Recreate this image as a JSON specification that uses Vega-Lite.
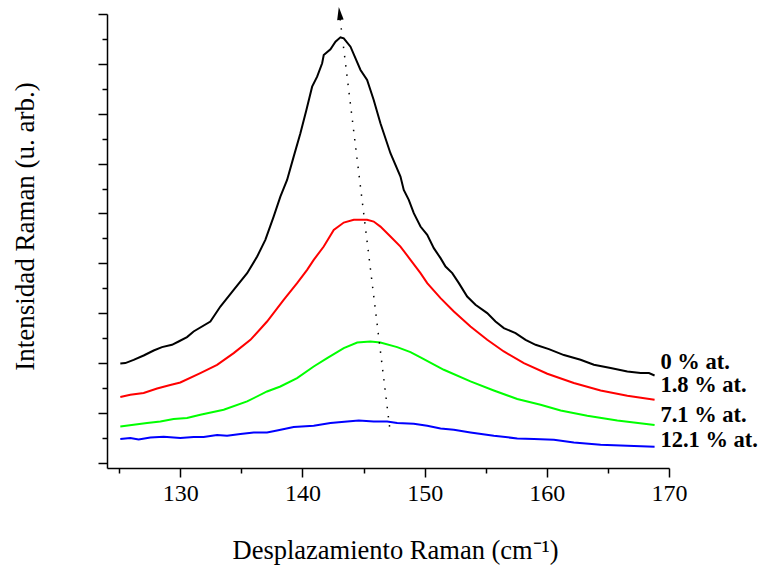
{
  "$schema": "https://vega.github.io/schema/vega-lite/v6.json",
  "width": 562,
  "height": 454,
  "autosize": "none",
  "padding": {"left": 107, "top": 14, "right": 95, "bottom": 101},
  "background": "white",
  "config": {
    "view": {"stroke": null},
    "font": "Liberation Serif",
    "axis": {"grid": false, "domainColor": "black", "tickColor": "black", "domainWidth": 1.5, "tickWidth": 1.5, "labelColor": "black", "titleColor": "black", "labelFont": "Liberation Serif", "titleFont": "Liberation Serif", "titleFontWeight": "normal"}
  },
  "datasets": {
    "spectra": [
      {"series": "0 % at.", "x": 125.09, "y": 1.990},
      {"series": "0 % at.", "x": 125.50, "y": 1.998},
      {"series": "0 % at.", "x": 126.18, "y": 2.064},
      {"series": "0 % at.", "x": 127.00, "y": 2.151},
      {"series": "0 % at.", "x": 127.82, "y": 2.251},
      {"series": "0 % at.", "x": 128.50, "y": 2.319},
      {"series": "0 % at.", "x": 129.32, "y": 2.365},
      {"series": "0 % at.", "x": 129.86, "y": 2.431},
      {"series": "0 % at.", "x": 130.55, "y": 2.520},
      {"series": "0 % at.", "x": 131.09, "y": 2.632},
      {"series": "0 % at.", "x": 132.46, "y": 2.832},
      {"series": "0 % at.", "x": 133.28, "y": 3.133},
      {"series": "0 % at.", "x": 134.37, "y": 3.468},
      {"series": "0 % at.", "x": 135.47, "y": 3.802},
      {"series": "0 % at.", "x": 136.29, "y": 4.135},
      {"series": "0 % at.", "x": 136.96, "y": 4.470},
      {"series": "0 % at.", "x": 137.64, "y": 4.937},
      {"series": "0 % at.", "x": 138.19, "y": 5.338},
      {"series": "0 % at.", "x": 138.74, "y": 5.672},
      {"series": "0 % at.", "x": 139.28, "y": 6.139},
      {"series": "0 % at.", "x": 139.83, "y": 6.609},
      {"series": "0 % at.", "x": 140.32, "y": 7.076},
      {"series": "0 % at.", "x": 140.79, "y": 7.543},
      {"series": "0 % at.", "x": 141.20, "y": 7.743},
      {"series": "0 % at.", "x": 141.61, "y": 8.012},
      {"series": "0 % at.", "x": 141.74, "y": 8.178},
      {"series": "0 % at.", "x": 142.29, "y": 8.292},
      {"series": "0 % at.", "x": 142.70, "y": 8.445},
      {"series": "0 % at.", "x": 143.11, "y": 8.533},
      {"series": "0 % at.", "x": 143.38, "y": 8.513},
      {"series": "0 % at.", "x": 143.93, "y": 8.344},
      {"series": "0 % at.", "x": 144.75, "y": 7.877},
      {"series": "0 % at.", "x": 145.29, "y": 7.677},
      {"series": "0 % at.", "x": 145.83, "y": 7.276},
      {"series": "0 % at.", "x": 146.38, "y": 6.809},
      {"series": "0 % at.", "x": 147.20, "y": 6.208},
      {"series": "0 % at.", "x": 148.02, "y": 5.739},
      {"series": "0 % at.", "x": 148.29, "y": 5.472},
      {"series": "0 % at.", "x": 148.70, "y": 5.272},
      {"series": "0 % at.", "x": 149.11, "y": 5.005},
      {"series": "0 % at.", "x": 149.66, "y": 4.737},
      {"series": "0 % at.", "x": 150.21, "y": 4.570},
      {"series": "0 % at.", "x": 150.75, "y": 4.303},
      {"series": "0 % at.", "x": 151.30, "y": 4.103},
      {"series": "0 % at.", "x": 151.71, "y": 3.935},
      {"series": "0 % at.", "x": 152.26, "y": 3.802},
      {"series": "0 % at.", "x": 152.80, "y": 3.602},
      {"series": "0 % at.", "x": 153.48, "y": 3.333},
      {"series": "0 % at.", "x": 154.16, "y": 3.167},
      {"series": "0 % at.", "x": 155.12, "y": 3.001},
      {"series": "0 % at.", "x": 155.80, "y": 2.832},
      {"series": "0 % at.", "x": 156.48, "y": 2.700},
      {"series": "0 % at.", "x": 157.44, "y": 2.600},
      {"series": "0 % at.", "x": 158.26, "y": 2.465},
      {"series": "0 % at.", "x": 159.08, "y": 2.365},
      {"series": "0 % at.", "x": 160.17, "y": 2.279},
      {"series": "0 % at.", "x": 161.40, "y": 2.159},
      {"series": "0 % at.", "x": 162.76, "y": 2.065},
      {"series": "0 % at.", "x": 163.85, "y": 1.964},
      {"series": "0 % at.", "x": 165.22, "y": 1.898},
      {"series": "0 % at.", "x": 166.59, "y": 1.830},
      {"series": "0 % at.", "x": 167.68, "y": 1.798},
      {"series": "0 % at.", "x": 168.36, "y": 1.798},
      {"series": "0 % at.", "x": 168.82, "y": 1.750},
      {"series": "1.8 % at.", "x": 125.09, "y": 1.317},
      {"series": "1.8 % at.", "x": 125.91, "y": 1.363},
      {"series": "1.8 % at.", "x": 127.00, "y": 1.397},
      {"series": "1.8 % at.", "x": 128.10, "y": 1.489},
      {"series": "1.8 % at.", "x": 129.18, "y": 1.557},
      {"series": "1.8 % at.", "x": 130.00, "y": 1.610},
      {"series": "1.8 % at.", "x": 131.64, "y": 1.798},
      {"series": "1.8 % at.", "x": 133.01, "y": 1.964},
      {"series": "1.8 % at.", "x": 134.37, "y": 2.199},
      {"series": "1.8 % at.", "x": 135.74, "y": 2.465},
      {"series": "1.8 % at.", "x": 137.10, "y": 2.832},
      {"series": "1.8 % at.", "x": 138.46, "y": 3.267},
      {"series": "1.8 % at.", "x": 139.56, "y": 3.602},
      {"series": "1.8 % at.", "x": 140.38, "y": 3.868},
      {"series": "1.8 % at.", "x": 140.92, "y": 4.069},
      {"series": "1.8 % at.", "x": 141.74, "y": 4.336},
      {"series": "1.8 % at.", "x": 142.56, "y": 4.670},
      {"series": "1.8 % at.", "x": 143.38, "y": 4.817},
      {"series": "1.8 % at.", "x": 144.20, "y": 4.871},
      {"series": "1.8 % at.", "x": 145.29, "y": 4.871},
      {"series": "1.8 % at.", "x": 145.83, "y": 4.837},
      {"series": "1.8 % at.", "x": 146.38, "y": 4.736},
      {"series": "1.8 % at.", "x": 147.20, "y": 4.536},
      {"series": "1.8 % at.", "x": 148.02, "y": 4.336},
      {"series": "1.8 % at.", "x": 148.84, "y": 4.069},
      {"series": "1.8 % at.", "x": 149.66, "y": 3.802},
      {"series": "1.8 % at.", "x": 150.21, "y": 3.602},
      {"series": "1.8 % at.", "x": 151.30, "y": 3.301},
      {"series": "1.8 % at.", "x": 152.39, "y": 3.033},
      {"series": "1.8 % at.", "x": 153.75, "y": 2.732},
      {"series": "1.8 % at.", "x": 155.12, "y": 2.465},
      {"series": "1.8 % at.", "x": 156.48, "y": 2.231},
      {"series": "1.8 % at.", "x": 158.12, "y": 1.998},
      {"series": "1.8 % at.", "x": 160.04, "y": 1.784},
      {"series": "1.8 % at.", "x": 162.21, "y": 1.598},
      {"series": "1.8 % at.", "x": 164.40, "y": 1.449},
      {"series": "1.8 % at.", "x": 166.59, "y": 1.343},
      {"series": "1.8 % at.", "x": 168.82, "y": 1.263},
      {"series": "7.1 % at.", "x": 125.09, "y": 0.728},
      {"series": "7.1 % at.", "x": 126.18, "y": 0.762},
      {"series": "7.1 % at.", "x": 127.28, "y": 0.796},
      {"series": "7.1 % at.", "x": 128.37, "y": 0.828},
      {"series": "7.1 % at.", "x": 129.45, "y": 0.876},
      {"series": "7.1 % at.", "x": 130.55, "y": 0.896},
      {"series": "7.1 % at.", "x": 131.64, "y": 0.962},
      {"series": "7.1 % at.", "x": 133.55, "y": 1.062},
      {"series": "7.1 % at.", "x": 135.47, "y": 1.229},
      {"series": "7.1 % at.", "x": 137.10, "y": 1.429},
      {"series": "7.1 % at.", "x": 138.19, "y": 1.529},
      {"series": "7.1 % at.", "x": 139.56, "y": 1.698},
      {"series": "7.1 % at.", "x": 140.92, "y": 1.930},
      {"series": "7.1 % at.", "x": 142.02, "y": 2.099},
      {"series": "7.1 % at.", "x": 143.38, "y": 2.299},
      {"series": "7.1 % at.", "x": 144.48, "y": 2.411},
      {"series": "7.1 % at.", "x": 145.56, "y": 2.431},
      {"series": "7.1 % at.", "x": 146.38, "y": 2.411},
      {"series": "7.1 % at.", "x": 147.75, "y": 2.319},
      {"series": "7.1 % at.", "x": 148.84, "y": 2.219},
      {"series": "7.1 % at.", "x": 149.66, "y": 2.115},
      {"series": "7.1 % at.", "x": 151.57, "y": 1.864},
      {"series": "7.1 % at.", "x": 153.75, "y": 1.630},
      {"series": "7.1 % at.", "x": 155.66, "y": 1.449},
      {"series": "7.1 % at.", "x": 157.58, "y": 1.277},
      {"series": "7.1 % at.", "x": 159.49, "y": 1.163},
      {"series": "7.1 % at.", "x": 161.13, "y": 1.048},
      {"series": "7.1 % at.", "x": 163.31, "y": 0.942},
      {"series": "7.1 % at.", "x": 165.77, "y": 0.848},
      {"series": "7.1 % at.", "x": 168.82, "y": 0.756},
      {"series": "12.1 % at.", "x": 125.09, "y": 0.475},
      {"series": "12.1 % at.", "x": 125.91, "y": 0.495},
      {"series": "12.1 % at.", "x": 126.59, "y": 0.467},
      {"series": "12.1 % at.", "x": 127.55, "y": 0.507},
      {"series": "12.1 % at.", "x": 128.64, "y": 0.521},
      {"series": "12.1 % at.", "x": 130.00, "y": 0.495},
      {"series": "12.1 % at.", "x": 131.09, "y": 0.515},
      {"series": "12.1 % at.", "x": 131.91, "y": 0.515},
      {"series": "12.1 % at.", "x": 133.01, "y": 0.555},
      {"series": "12.1 % at.", "x": 133.83, "y": 0.541},
      {"series": "12.1 % at.", "x": 134.92, "y": 0.575},
      {"series": "12.1 % at.", "x": 136.01, "y": 0.607},
      {"series": "12.1 % at.", "x": 137.10, "y": 0.607},
      {"series": "12.1 % at.", "x": 137.92, "y": 0.647},
      {"series": "12.1 % at.", "x": 139.28, "y": 0.716},
      {"series": "12.1 % at.", "x": 140.92, "y": 0.742},
      {"series": "12.1 % at.", "x": 142.29, "y": 0.796},
      {"series": "12.1 % at.", "x": 143.66, "y": 0.828},
      {"series": "12.1 % at.", "x": 144.61, "y": 0.848},
      {"series": "12.1 % at.", "x": 145.83, "y": 0.828},
      {"series": "12.1 % at.", "x": 146.93, "y": 0.828},
      {"series": "12.1 % at.", "x": 147.75, "y": 0.796},
      {"series": "12.1 % at.", "x": 149.11, "y": 0.782},
      {"series": "12.1 % at.", "x": 150.21, "y": 0.742},
      {"series": "12.1 % at.", "x": 151.30, "y": 0.688},
      {"series": "12.1 % at.", "x": 152.39, "y": 0.661},
      {"series": "12.1 % at.", "x": 153.75, "y": 0.607},
      {"series": "12.1 % at.", "x": 155.66, "y": 0.541},
      {"series": "12.1 % at.", "x": 157.58, "y": 0.487},
      {"series": "12.1 % at.", "x": 158.94, "y": 0.475},
      {"series": "12.1 % at.", "x": 160.58, "y": 0.461},
      {"series": "12.1 % at.", "x": 162.21, "y": 0.407},
      {"series": "12.1 % at.", "x": 164.40, "y": 0.361},
      {"series": "12.1 % at.", "x": 166.59, "y": 0.341},
      {"series": "12.1 % at.", "x": 168.82, "y": 0.321}
    ],
    "shift": [
      {"x": 147.16, "y": 0.66},
      {"x": 143.08, "y": 8.90}
    ],
    "arrowhead": [
      {"x": 143.04, "y": 9.01}
    ],
    "labels": [
      {"label": "0 % at.", "x": 169.3, "y": 2.03},
      {"label": "1.8 % at.", "x": 169.3, "y": 1.563},
      {"label": "7.1 % at.", "x": 169.3, "y": 0.962},
      {"label": "12.1 % at.", "x": 169.3, "y": 0.461}
    ]
  },
  "resolve": {"axis": {"x": "independent", "y": "independent"}},
  "layer": [
    {
      "data": {"name": "spectra"},
      "mark": {"type": "line", "strokeWidth": 2},
      "encoding": {
        "x": {"field": "x", "type": "quantitative", "scale": {"domain": [124, 170], "nice": false, "zero": false},
          "axis": {"orient": "bottom", "values": [130, 140, 150, 160, 170], "tickSize": 9, "labelFontSize": 24, "labelPadding": 4, "labelFlush": false,
            "title": "Desplazamiento Raman (cm⁻¹)", "titleFontSize": 26.5, "titleX": 288, "titleY": 82, "titleAlign": "center", "titleBaseline": "middle", "titleAnchor": null}},
        "y": {"field": "y", "type": "quantitative", "scale": {"domain": [-0.106, 9], "nice": false, "zero": false},
          "axis": {"orient": "left", "values": [0, 1, 2, 3, 4, 5, 6, 7, 8, 9], "tickSize": 9, "labels": false,
            "title": "Intensidad Raman (u. arb.)", "titleFontSize": 27, "titleX": -82, "titleY": 212, "titleAngle": -90, "titleAlign": "center", "titleBaseline": "middle", "titleAnchor": null}},
        "color": {"field": "series", "type": "nominal", "legend": null,
          "scale": {"domain": ["0 % at.", "1.8 % at.", "7.1 % at.", "12.1 % at."], "range": ["#000000", "#ff0000", "#00ff00", "#0000ff"]}}
      }
    },
    {
      "data": {"name": "shift"},
      "mark": {"type": "line", "color": "black", "strokeWidth": 1.5, "strokeDash": [1.5, 7.8]},
      "encoding": {
        "x": {"field": "x", "type": "quantitative",
          "axis": {"orient": "bottom", "values": [125, 135, 145, 155, 165], "tickSize": 5, "labels": false, "domain": false, "title": null}},
        "y": {"field": "y", "type": "quantitative",
          "axis": {"orient": "left", "values": [0.5, 1.5, 2.5, 3.5, 4.5, 5.5, 6.5, 7.5, 8.5], "tickSize": 5, "labels": false, "domain": false, "title": null}}
      }
    },
    {
      "data": {"name": "arrowhead"},
      "mark": {"type": "point", "shape": "M0,-1L0.5,1L-0.5,1Z", "filled": true, "color": "black", "opacity": 1, "size": 169, "angle": -7},
      "encoding": {
        "x": {"field": "x", "type": "quantitative", "axis": null},
        "y": {"field": "y", "type": "quantitative", "axis": null}
      }
    },
    {
      "data": {"name": "labels"},
      "mark": {"type": "text", "align": "left", "baseline": "middle", "font": "Liberation Serif", "fontWeight": "bold", "fontSize": 22.5, "color": "black"},
      "encoding": {
        "x": {"field": "x", "type": "quantitative", "axis": null},
        "y": {"field": "y", "type": "quantitative", "axis": null},
        "text": {"field": "label"}
      }
    }
  ]
}
